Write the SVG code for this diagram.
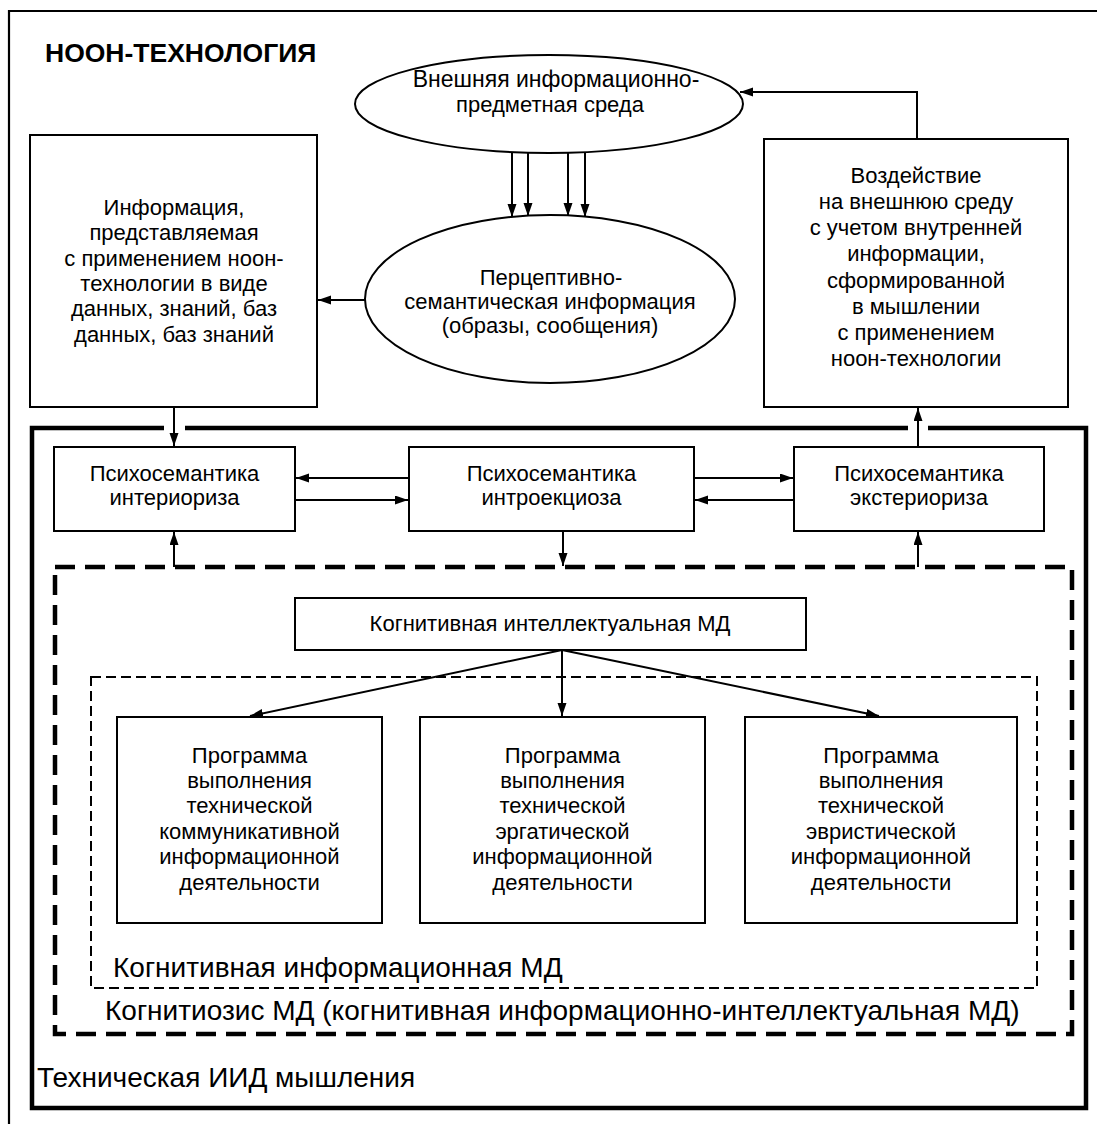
<svg xmlns="http://www.w3.org/2000/svg" width="1097" height="1124" viewBox="0 0 1097 1124">
<style>
.bx{fill:#fff;stroke:#000;stroke-width:2}
.t{font-family:"Liberation Sans",Arial,sans-serif;font-size:22px;fill:#000;text-anchor:middle}
.lb{font-family:"Liberation Sans",Arial,sans-serif;font-size:28px;fill:#000}
.ar{fill:none;stroke:#000;stroke-width:2;marker-end:url(#ah)}
</style>
<defs>
<marker id="ah" markerWidth="15" markerHeight="10" refX="13" refY="4.5" orient="auto" markerUnits="userSpaceOnUse">
<path d="M0,0 L13,4.5 L0,9 z" fill="#000"/>
</marker>
</defs>
<rect width="1097" height="1124" fill="#fff"/>
<g id="frames">
<path d="M9,1124 V11 H1097" fill="none" stroke="#000" stroke-width="2.2"/>
<path d="M164,428 H32 V1108 H1086 V428 H928 M908,428 H185" fill="none" stroke="#000" stroke-width="4.5"/>
<rect x="55" y="567" width="1017" height="467" fill="none" stroke="#000" stroke-width="4.5" stroke-dasharray="20 10"/>
<rect x="91" y="677" width="946" height="311" fill="none" stroke="#000" stroke-width="2" stroke-dasharray="10 5"/>
</g>
<text class="lb" x="45" y="62" style="font-weight:bold;font-size:26.5px">НООН-ТЕХНОЛОГИЯ</text>
<g id="env">
<ellipse class="bx" cx="549" cy="104" rx="194" ry="49"/>
<text class="t" x="556" y="87" style="font-size:23px">Внешняя информационно-</text>
<text class="t" x="550" y="112">предметная среда</text>
</g>
<g id="percept">
<ellipse class="bx" cx="550" cy="299" rx="185" ry="84"/>
<text class="t" x="551" y="285">Перцептивно-</text>
<text class="t" x="550" y="309">семантическая информация</text>
<text class="t" x="550" y="333">(образы, сообщения)</text>
</g>
<g id="info">
<rect class="bx" x="30" y="135" width="287" height="272"/>
<text class="t" x="174" y="215">Информация,</text>
<text class="t" x="174" y="240">представляемая</text>
<text class="t" x="174" y="266">с применением ноон-</text>
<text class="t" x="174" y="291">технологии в виде</text>
<text class="t" x="174" y="316">данных, знаний, баз</text>
<text class="t" x="174" y="342">данных, баз знаний</text>
</g>
<g id="impact">
<rect class="bx" x="764" y="139" width="304" height="268"/>
<text class="t" x="916" y="183">Воздействие</text>
<text class="t" x="916" y="209">на внешнюю среду</text>
<text class="t" x="916" y="235">с учетом внутренней</text>
<text class="t" x="916" y="261">информации,</text>
<text class="t" x="916" y="288">сформированной</text>
<text class="t" x="916" y="314">в мышлении</text>
<text class="t" x="916" y="340">с применением</text>
<text class="t" x="916" y="366">ноон-технологии</text>
</g>
<g id="interior">
<rect class="bx" x="54" y="447" width="241" height="84"/>
<text class="t" x="174.5" y="481">Психосемантика</text>
<text class="t" x="174.5" y="505">интериориза</text>
</g>
<g id="introek">
<rect class="bx" x="409" y="447" width="285" height="84"/>
<text class="t" x="551.5" y="481">Психосемантика</text>
<text class="t" x="551.5" y="505">интроекциоза</text>
</g>
<g id="exterior">
<rect class="bx" x="794" y="447" width="250" height="84"/>
<text class="t" x="919" y="481">Психосемантика</text>
<text class="t" x="919" y="505">экстериориза</text>
</g>
<g id="cogint">
<rect class="bx" x="295" y="598" width="511" height="52"/>
<text class="t" x="550" y="631">Когнитивная интеллектуальная МД</text>
</g>
<g id="progA">
<rect class="bx" x="117" y="717" width="265" height="206"/>
<text class="t" x="249.5" y="763">Программа</text>
<text class="t" x="249.5" y="788">выполнения</text>
<text class="t" x="249.5" y="813">технической</text>
<text class="t" x="249.5" y="839">коммуникативной</text>
<text class="t" x="249.5" y="864">информационной</text>
<text class="t" x="249.5" y="890">деятельности</text>
</g>
<g id="progB">
<rect class="bx" x="420" y="717" width="285" height="206"/>
<text class="t" x="562.5" y="763">Программа</text>
<text class="t" x="562.5" y="788">выполнения</text>
<text class="t" x="562.5" y="813">технической</text>
<text class="t" x="562.5" y="839">эргатической</text>
<text class="t" x="562.5" y="864">информационной</text>
<text class="t" x="562.5" y="890">деятельности</text>
</g>
<g id="progC">
<rect class="bx" x="745" y="717" width="272" height="206"/>
<text class="t" x="881" y="763">Программа</text>
<text class="t" x="881" y="788">выполнения</text>
<text class="t" x="881" y="813">технической</text>
<text class="t" x="881" y="839">эвристической</text>
<text class="t" x="881" y="864">информационной</text>
<text class="t" x="881" y="890">деятельности</text>
</g>
<g id="labels">
<text class="lb" x="113" y="977">Когнитивная информационная МД</text>
<text class="lb" x="105" y="1020">Когнитиозис МД (когнитивная информационно-интеллектуальная МД)</text>
<text class="lb" x="37" y="1087">Техническая ИИД мышления</text>
</g>
<g id="connectors">
<line class="ar" x1="512" y1="152" x2="512" y2="217"/>
<line class="ar" x1="528" y1="153" x2="528" y2="216"/>
<line class="ar" x1="568" y1="153" x2="568" y2="216"/>
<line class="ar" x1="585" y1="152" x2="585" y2="217"/>
<line class="ar" x1="365" y1="300" x2="318" y2="300"/>
<path class="ar" d="M917,139 V92 H740"/>
<line class="ar" x1="174" y1="407" x2="174" y2="446"/>
<line class="ar" x1="918" y1="447" x2="918" y2="408"/>
<line class="ar" x1="409" y1="478" x2="296" y2="478"/>
<line class="ar" x1="295" y1="500" x2="408" y2="500"/>
<line class="ar" x1="694" y1="478" x2="793" y2="478"/>
<line class="ar" x1="794" y1="500" x2="695" y2="500"/>
<line class="ar" x1="563" y1="531" x2="563" y2="566"/>
<line class="ar" x1="174" y1="567" x2="174" y2="532"/>
<line class="ar" x1="918" y1="567" x2="918" y2="532"/>
<line class="ar" x1="562" y1="650" x2="250" y2="716"/>
<line class="ar" x1="562" y1="650" x2="562" y2="716"/>
<line class="ar" x1="562" y1="650" x2="879" y2="716"/>
</g>
</svg>
